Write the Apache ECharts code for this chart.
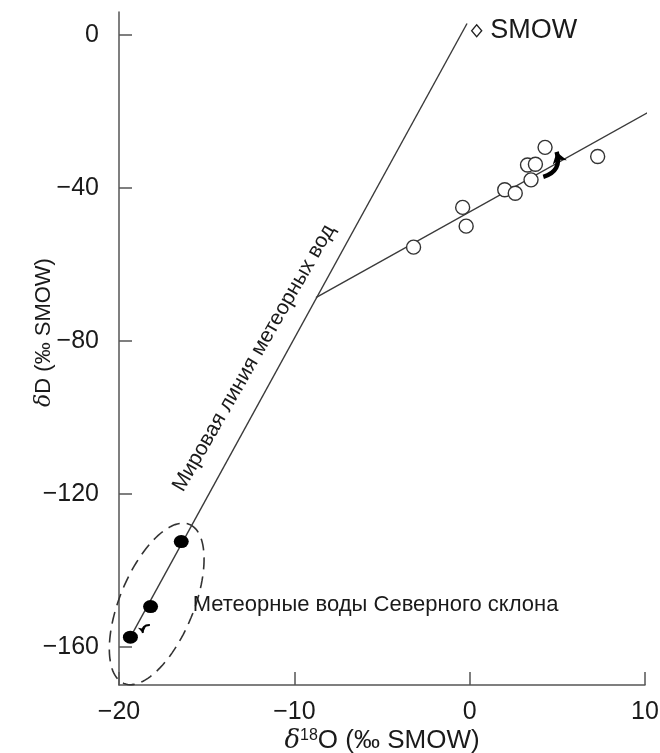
<!DOCTYPE html>
<html>
<head>
<meta charset="utf-8">
<script src="https://cdn.jsdelivr.net/npm/echarts@6/dist/echarts.min.js"></script>
<style>
  html, body { margin: 0; padding: 0; background: #fff; }
  #chart { width: 660px; height: 753px; }
</style>
</head>
<body>
<div id="chart"></div>
<script>
// axis ticks
const xTicks = [-20, -10, 0, 10];
const yTicks = [-160, -120, -80, -40, 0];

// open circles (δ18O, δD)
const openD18O = [-3.2, -0.4, -0.2, 2.0, 2.6, 3.3, 3.75, 3.5, 4.3, 7.3];
const openDD = [-55.5, -45.1, -50.0, -40.5, -41.4, -34.0, -33.8, -37.9, -29.4, -31.8];

// meteoric waters of the northern slope (filled dots)
const northD18O = [-16.45, -18.2, -19.35];
const northDD = [-132.5, -149.5, -157.5];

// lines
const meteoricLine = [[-19.35, -157.5], [-0.15, 3]];
const evapLine = [[-8.77, -68.7], [10.2, -20.2]];

// SMOW standard
const smowPoint = [0.4, 1.1];

// dashed ellipse round the northern slope dots: centre and half-axis vectors in data units
const ellipseCenter = [-17.85, -148.8];
const ellipseMajor = [1.87, 20.8];
const ellipseMinor = [1.95, -3.69];

// arrows
const evapArrow = [[4.2, -37.1], [4.96, -30.6]];
const smallArrow = [[-18.24, -154.3], [-18.64, -156.4]];

// text anchors
const lineLabelPos = [-12.3, -84.5];
const northLabelPos = [-15.8, -149.1];

const chart = echarts.init(document.getElementById('chart'));

const ink = '#1a1a1a';
const lineCol = '#3a3a3a';
const font = 'Liberation Sans, Arial, sans-serif';

const option = {
  animation: false,
  backgroundColor: '#fff',
  grid: {
    left: 119,
    right: 15,
    top: 12,
    bottom: 68,
    containLabel: false,
    outerBoundsMode: 'none'
  },
  xAxis: {
    type: 'value',
    min: -20,
    max: 10,
    interval: 10,
    name: '{d|δ}{sup|18}O (‰ SMOW)',
    nameLocation: 'middle',
    nameGap: 43,
    nameMoveOverlap: false,
    nameTextStyle: {
      fontFamily: font,
      fontSize: 26,
      color: ink,
      rich: {
        d: { fontFamily: 'DejaVu Serif', fontStyle: 'italic', fontSize: 26, color: ink },
        sup: { fontFamily: font, fontSize: 16, color: ink, verticalAlign: 'top', padding: [0, 0, 10, 0] }
      }
    },
    axisLine: { onZero: false, lineStyle: { color: '#555', width: 1.5 } },
    axisTick: { inside: true, length: 13, lineStyle: { color: '#555', width: 1.5 } },
    axisLabel: { margin: 15, fontSize: 25, fontFamily: font, color: ink,
      formatter: v => xTicks.includes(v) ? String(v).replace('-', '\u2212') : '' },
    splitLine: { show: false }
  },
  yAxis: {
    type: 'value',
    min: -170,
    max: 6,
    name: '{d|δ}D (‰ SMOW)',
    nameLocation: 'middle',
    nameRotate: 90,
    nameGap: 64,
    nameMoveOverlap: false,
    nameTextStyle: {
      fontFamily: font,
      fontSize: 22,
      color: ink,
      padding: [0, 0, 0, 32],
      rich: {
        d: { fontFamily: 'DejaVu Serif', fontStyle: 'italic', fontSize: 22, color: ink }
      }
    },
    axisLine: { onZero: false, lineStyle: { color: '#555', width: 1.5 } },
    axisTick: { inside: true, length: 13, customValues: yTicks, lineStyle: { color: '#555', width: 1.5 } },
    axisLabel: { margin: 20, fontSize: 25, fontFamily: font, color: ink, customValues: yTicks,
      formatter: v => String(v).replace('-', '\u2212') },
    splitLine: { show: false }
  },
  series: [
    {
      name: 'meteoric line',
      type: 'line',
      data: meteoricLine,
      showSymbol: false,
      clip: false,
      lineStyle: { color: lineCol, width: 1.4 },
      z: 2
    },
    {
      name: 'evaporation line',
      type: 'line',
      data: evapLine,
      showSymbol: false,
      clip: false,
      lineStyle: { color: lineCol, width: 1.4 },
      z: 2
    },
    {
      name: 'ellipse',
      type: 'custom',
      coordinateSystem: 'cartesian2d',
      clip: false,
      data: [ellipseCenter],
      renderItem: function (params, api) {
        const pts = [];
        for (let i = 0; i <= 120; i++) {
          const t = i / 120 * Math.PI * 2;
          const c = Math.cos(t), s = Math.sin(t);
          pts.push(api.coord([
            ellipseCenter[0] + c * ellipseMajor[0] + s * ellipseMinor[0],
            ellipseCenter[1] + c * ellipseMajor[1] + s * ellipseMinor[1]
          ]));
        }
        return {
          type: 'polyline',
          shape: { points: pts },
          style: { fill: null, stroke: '#333', lineWidth: 1.6, lineDash: [12, 7] }
        };
      },
      z: 1
    },
    {
      name: 'open',
      type: 'scatter',
      data: openD18O.map((x, i) => [x, openDD[i]]),
      symbol: 'circle',
      symbolSize: 14,
      clip: false,
      itemStyle: { color: '#fff', borderColor: '#333', borderWidth: 1.4, opacity: 1 },
      z: 3
    },
    {
      name: 'north',
      type: 'scatter',
      data: northD18O.map((x, i) => [x, northDD[i]]),
      symbol: 'circle',
      symbolSize: [15, 13],
      clip: false,
      itemStyle: { color: '#000', opacity: 1 },
      z: 4
    },
    {
      name: 'SMOW',
      type: 'scatter',
      data: [smowPoint],
      symbol: 'diamond',
      symbolSize: [10, 12],
      clip: false,
      itemStyle: { color: '#fff', borderColor: '#222', borderWidth: 1.4, opacity: 1 },
      label: {
        show: true, position: 'right', distance: 8, formatter: 'SMOW',
        fontFamily: font, fontSize: 27, color: ink
      },
      z: 4
    },
    {
      name: 'arrows',
      type: 'lines',
      coordinateSystem: 'cartesian2d',
      symbol: ['none', 'arrow'],
      symbolSize: 9,
      data: [
        { coords: evapArrow, lineStyle: { width: 4.5, curveness: -0.5 }, symbolSize: 11 },
        { coords: smallArrow, lineStyle: { width: 2, curveness: -0.6 }, symbolSize: 6 }
      ],
      lineStyle: { color: '#000', opacity: 1 },
      z: 5
    },
    {
      name: 'labels',
      type: 'scatter',
      symbolSize: 0,
      clip: false,
      silent: true,
      itemStyle: { opacity: 1 },
      data: [
        {
          value: lineLabelPos,
          label: {
            show: true, position: 'inside', rotate: 60,
            formatter: 'Мировая линия метеорных вод',
            fontFamily: font, fontSize: 21, color: ink
          }
        },
        {
          value: northLabelPos,
          label: {
            show: true, position: 'inside', align: 'left',
            formatter: 'Метеорные воды Северного склона',
            fontFamily: font, fontSize: 22, color: ink
          }
        }
      ],
      z: 6
    }
  ]
};

chart.setOption(option);
window.addEventListener('resize', () => chart.resize());
</script>
</body>
</html>
